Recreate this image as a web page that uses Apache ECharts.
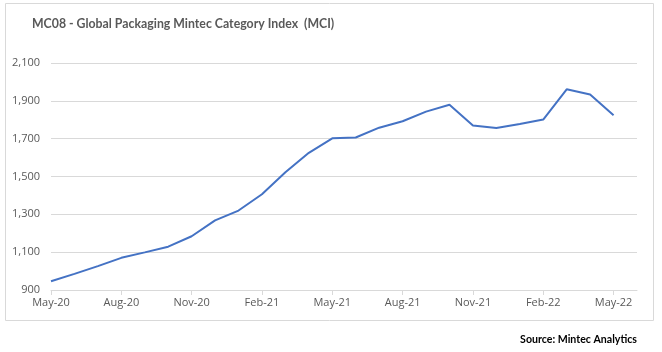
<!DOCTYPE html>
<html>
<head>
<meta charset="UTF-8">
<title>MC08 - Global Packaging Mintec Category Index</title>
<script src="https://cdn.jsdelivr.net/npm/echarts@6/dist/echarts.min.js"></script>
<style>
  html, body { margin: 0; padding: 0; background: #fff; }
  #chart { width: 662px; height: 352px; }
</style>
</head>
<body>
<div id="chart"></div>
<script type="text/javascript">
// month categories (last slot is empty, the plot area runs one month past the data)
var months = ['May-20', 'Jun-20', 'Jul-20', 'Aug-20', 'Sep-20', 'Oct-20', 'Nov-20', 'Dec-20',
  'Jan-21', 'Feb-21', 'Mar-21', 'Apr-21', 'May-21', 'Jun-21', 'Jul-21', 'Aug-21', 'Sep-21',
  'Oct-21', 'Nov-21', 'Dec-21', 'Jan-22', 'Feb-22', 'Mar-22', 'Apr-22', 'May-22', ''];
// MCI values
var mci = [946, 985, 1026, 1070, 1099, 1129, 1184, 1268, 1320, 1406, 1522, 1625, 1702,
  1706, 1758, 1792, 1843, 1879, 1770, 1756, 1778, 1801, 1961, 1933, 1824];
var yTicks = { min: 900, max: 2100, step: 200 };

var font = '"Open Sans", "DejaVu Sans", sans-serif';
var boldFont = 'Lato, "Open Sans", sans-serif';
var myChart = echarts.init(document.getElementById('chart'));
myChart.setOption({
  animation: false,
  textStyle: { fontFamily: font },
  title: {
    text: 'MC08 - Global Packaging Mintec Category Index  (MCI)',
    left: 27,
    top: 13,
    textStyle: { fontSize: 12.3, fontWeight: 'bold', color: '#595959', fontFamily: boldFont }
  },
  graphic: [
    {
      type: 'rect',
      shape: { x: 5.5, y: 3.5, width: 648, height: 317 },
      style: { fill: 'none', stroke: '#d9d9d9', lineWidth: 1 },
      z: -1
    },
    {
      type: 'text',
      right: 25,
      top: 334,
      style: { text: 'Source: Mintec Analytics', font: 'bold 10.6px ' + boldFont, fill: '#000' }
    }
  ],
  grid: { left: 51, right: 25, top: 63, bottom: 62 },
  xAxis: {
    type: 'category',
    data: months,
    boundaryGap: false,
    axisLine: { lineStyle: { color: '#d9d9d9' } },
    axisTick: { interval: 2, length: 5, lineStyle: { color: '#d9d9d9' } },
    axisLabel: { interval: 2, color: '#595959', fontSize: 11, margin: 7 }
  },
  yAxis: {
    type: 'value',
    min: yTicks.min,
    max: yTicks.max,
    interval: yTicks.step,
    axisLine: { show: false },
    axisTick: { show: false },
    splitLine: { lineStyle: { color: '#d9d9d9' } },
    axisLabel: {
      color: '#595959',
      fontSize: 11,
      margin: 11,
      formatter: function (v) { return v.toLocaleString('en-US'); }
    }
  },
  series: [{
    type: 'line',
    data: mci,
    showSymbol: false,
    symbol: 'none',
    lineStyle: { color: '#4472c4', width: 2 }
  }]
});
</script>
</body>
</html>
